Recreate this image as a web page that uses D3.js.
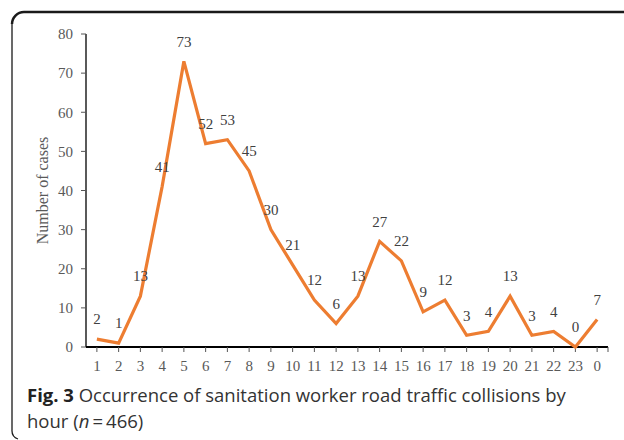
<!DOCTYPE html>
<html>
<head>
<meta charset="utf-8">
<script src="https://cdn.jsdelivr.net/npm/d3@7"></script>
<style>
  html, body { margin: 0; padding: 0; background: #fff; }
  svg { display: block; }
</style>
</head>
<body>
<svg id="chart" width="624" height="440"></svg>
<script>
const hours = ['1','2','3','4','5','6','7','8','9','10','11','12','13','14','15','16','17','18','19','20','21','22','23','0'];
const cases = [2,1,13,41,73,52,53,45,30,21,12,6,13,27,22,9,12,3,4,13,3,4,0,7];
const yTicks = [0,10,20,30,40,50,60,70,80];

const svg = d3.select('#chart');
const serif = '"Liberation Serif", "Times New Roman", serif';

// frame
svg.append('path')
  .attr('d', 'M624,12 H24 A12,12 0 0 0 12,24')
  .attr('fill', 'none').attr('stroke', '#1a1a1a').attr('stroke-width', 2.5);
svg.append('path')
  .attr('d', 'M12,24 V430 A9,9 0 0 0 18,439')
  .attr('fill', 'none').attr('stroke', '#1a1a1a').attr('stroke-width', 1.3);

const x = d3.scaleBand().domain(hours).range([86, 608]);
const y = d3.scaleLinear().domain([0, 80]).range([347, 34]);
const cx = d => x(d) + x.bandwidth() / 2;

// y axis
const yAxis = svg.append('g');
yAxis.append('line')
  .attr('x1', 86).attr('x2', 86).attr('y1', y(80)).attr('y2', y(0))
  .attr('stroke', '#000').attr('stroke-width', 1.3);
yAxis.selectAll('.yt').data(yTicks).enter().append('line')
  .attr('x1', 81).attr('x2', 86)
  .attr('y1', d => y(d)).attr('y2', d => y(d))
  .attr('stroke', '#555').attr('stroke-width', 1);
yAxis.selectAll('.yl').data(yTicks).enter().append('text')
  .attr('x', 73).attr('y', d => y(d)).attr('dy', '0.35em')
  .attr('text-anchor', 'end')
  .attr('font-family', serif).attr('font-size', 15).attr('fill', '#595959')
  .text(d => d);

svg.append('text')
  .attr('transform', `translate(48,${(y(0) + y(80)) / 2}) rotate(-90)`)
  .attr('text-anchor', 'middle')
  .attr('font-family', serif).attr('font-size', 16).attr('fill', '#595959')
  .text('Number of cases');

// x axis
const xAxis = svg.append('g');
xAxis.append('line')
  .attr('x1', 86).attr('x2', 608).attr('y1', y(0)).attr('y2', y(0))
  .attr('stroke', '#000').attr('stroke-width', 2);
const tickX = hours.map(cx).concat([608]);
xAxis.selectAll('.xt').data(tickX).enter().append('line')
  .attr('x1', d => d).attr('x2', d => d)
  .attr('y1', y(0)).attr('y2', y(0) + 5)
  .attr('stroke', '#555').attr('stroke-width', 1);
xAxis.selectAll('.xl').data(hours).enter().append('text')
  .attr('x', cx).attr('y', 366).attr('dy', '0.35em')
  .attr('text-anchor', 'middle')
  .attr('font-family', serif).attr('font-size', 15).attr('fill', '#595959')
  .text(d => d);

// line
const line = d3.line()
  .x((d, i) => cx(hours[i]))
  .y(d => y(d));
svg.append('path')
  .datum(cases)
  .attr('d', line)
  .attr('fill', 'none')
  .attr('stroke', '#ED7D31')
  .attr('stroke-width', 3.2)
  .attr('stroke-linejoin', 'miter');

// data labels
svg.selectAll('.dl').data(cases).enter().append('text')
  .attr('x', (d, i) => cx(hours[i]))
  .attr('y', d => y(d) - 20).attr('dy', '0.35em')
  .attr('text-anchor', 'middle')
  .attr('font-family', serif).attr('font-size', 15).attr('fill', '#404040')
  .text(d => d);

// caption
const cap = svg.append('text')
  .attr('font-family', '"Open Sans", "Noto Sans", sans-serif')
  .attr('font-size', 18.5).attr('fill', '#333');
const l1 = cap.append('tspan').attr('x', 27).attr('y', 402);
l1.append('tspan').attr('font-weight', 'bold').attr('fill', '#222').text('Fig. 3');
l1.append('tspan').text(' Occurrence of sanitation worker road traffic collisions by');
const l2 = cap.append('tspan').attr('x', 27).attr('y', 428);
l2.append('tspan').text('hour (');
l2.append('tspan').attr('font-style', 'italic').text('n');
l2.append('tspan').text('\u2009=\u2009466)');
</script>
</body>
</html>
